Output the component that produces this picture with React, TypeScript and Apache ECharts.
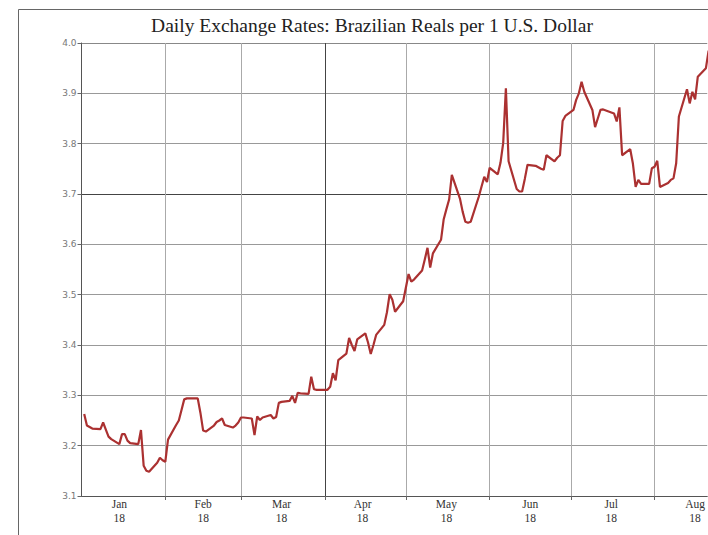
import React, { useEffect, useRef } from "react";
import * as echarts from "echarts";

const TITLE = "Daily Exchange Rates: Brazilian Reals per 1 U.S. Dollar";

const dates = [
  "2018-01-02","2018-01-03","2018-01-05","2018-01-08","2018-01-09","2018-01-10","2018-01-11","2018-01-12",
  "2018-01-15","2018-01-16","2018-01-17","2018-01-18","2018-01-19","2018-01-22","2018-01-23","2018-01-24",
  "2018-01-25","2018-01-26","2018-01-29","2018-01-30","2018-01-31","2018-02-01","2018-02-02","2018-02-05",
  "2018-02-06","2018-02-07","2018-02-08","2018-02-09","2018-02-12","2018-02-13","2018-02-14","2018-02-15",
  "2018-02-16","2018-02-19","2018-02-20","2018-02-21","2018-02-22","2018-02-23","2018-02-26","2018-02-27",
  "2018-02-28","2018-03-01","2018-03-02","2018-03-05","2018-03-06","2018-03-07","2018-03-08","2018-03-09",
  "2018-03-12","2018-03-13","2018-03-14","2018-03-15","2018-03-16","2018-03-19","2018-03-20","2018-03-21",
  "2018-03-22","2018-03-23","2018-03-26","2018-03-27","2018-03-28","2018-03-29","2018-04-02","2018-04-03",
  "2018-04-04","2018-04-05","2018-04-06","2018-04-09","2018-04-10","2018-04-11","2018-04-12","2018-04-13",
  "2018-04-16","2018-04-17","2018-04-18","2018-04-19","2018-04-20","2018-04-23","2018-04-24","2018-04-25",
  "2018-04-26","2018-04-27","2018-04-30","2018-05-02","2018-05-03","2018-05-04","2018-05-07","2018-05-08",
  "2018-05-09","2018-05-10","2018-05-11","2018-05-14","2018-05-15","2018-05-16","2018-05-17","2018-05-18",
  "2018-05-21","2018-05-22","2018-05-23","2018-05-24","2018-05-25","2018-05-28","2018-05-29","2018-05-30",
  "2018-05-31","2018-06-01","2018-06-04","2018-06-05","2018-06-06","2018-06-07","2018-06-08","2018-06-11",
  "2018-06-12","2018-06-13","2018-06-14","2018-06-15","2018-06-18","2018-06-19","2018-06-20","2018-06-21",
  "2018-06-22","2018-06-25","2018-06-26","2018-06-27","2018-06-28","2018-06-29","2018-07-02","2018-07-03",
  "2018-07-04","2018-07-05","2018-07-06","2018-07-09","2018-07-10","2018-07-11","2018-07-12","2018-07-13",
  "2018-07-16","2018-07-17","2018-07-18","2018-07-19","2018-07-20","2018-07-23","2018-07-24","2018-07-25",
  "2018-07-26","2018-07-27","2018-07-30","2018-07-31","2018-08-01","2018-08-02","2018-08-03","2018-08-06",
  "2018-08-07","2018-08-08","2018-08-09","2018-08-10","2018-08-13","2018-08-14","2018-08-15","2018-08-16",
  "2018-08-17","2018-08-20","2018-08-21"
];

const rates = [
  3.263,3.240,3.234,3.233,3.246,3.232,3.218,3.213,
  3.203,3.223,3.223,3.210,3.205,3.203,3.231,3.160,
  3.150,3.148,3.166,3.176,3.171,3.168,3.212,3.241,
  3.250,3.271,3.292,3.294,3.294,3.294,3.265,3.230,
  3.228,3.240,3.247,3.250,3.254,3.241,3.236,3.240,
  3.246,3.256,3.256,3.254,3.221,3.258,3.251,3.256,
  3.261,3.254,3.257,3.285,3.287,3.289,3.299,3.285,
  3.305,3.304,3.303,3.337,3.312,3.311,3.311,3.317,
  3.344,3.330,3.370,3.383,3.414,3.400,3.388,3.411,
  3.423,3.405,3.382,3.400,3.420,3.440,3.465,3.501,
  3.490,3.466,3.487,3.541,3.526,3.530,3.548,3.570,
  3.593,3.554,3.582,3.609,3.650,3.670,3.689,3.738,
  3.691,3.665,3.645,3.643,3.645,3.695,3.715,3.734,
  3.724,3.752,3.739,3.762,3.801,3.910,3.765,3.710,
  3.705,3.705,3.730,3.758,3.756,3.753,3.750,3.748,
  3.777,3.765,3.772,3.777,3.845,3.855,3.867,3.887,
  3.900,3.923,3.903,3.867,3.833,3.850,3.867,3.868,
  3.862,3.860,3.844,3.872,3.777,3.789,3.760,3.714,
  3.728,3.720,3.720,3.751,3.754,3.766,3.714,3.722,
  3.728,3.731,3.761,3.854,3.908,3.880,3.903,3.888,
  3.933,3.950,3.985
];

const monthStarts = ["2018-02-01","2018-03-01","2018-04-01","2018-05-01","2018-06-01","2018-07-01","2018-08-01"];
const labelDates = ["2018-01-15","2018-02-15","2018-03-16","2018-04-15","2018-05-16","2018-06-16","2018-07-16","2018-08-16"];
const monthNames = ["Jan","Feb","Mar","Apr","May","Jun","Jul","Aug"];
const yearLabels = ["18","18","18","18","18","18","18","18"];
const yTicks = ["3.1","3.2","3.3","3.4","3.5","3.6","3.7","3.8","3.9","4.0"];

const DAY = 86400000;
const ORIGIN = Date.UTC(2018, 0, 1);
const dayOf = (s: string) => {
  const [y, m, d] = s.split("-").map(Number);
  return (Date.UTC(y, m - 1, d) - ORIGIN) / DAY;
};

const X_MIN = 0;
const X_MAX = 231.5;
const SERIF = "Liberation Serif, Times New Roman, serif";

export default function App() {
  const ref = useRef<HTMLDivElement>(null);
  useEffect(() => {
    if (!ref.current) return;
    const chart = echarts.init(ref.current, null, { renderer: "svg" });
    const labelDays = labelDates.map(dayOf);
    const nearest = (v: number) => {
      let best = 0;
      let bd = Infinity;
      labelDays.forEach((t, i) => {
        const d = Math.abs(t - v);
        if (d < bd) { bd = d; best = i; }
      });
      return best;
    };
    chart.setOption({
      animation: false,
      backgroundColor: "#ffffff",
      grid: { left: 81.5, right: 0, top: 43, bottom: 39, containLabel: false },
      graphic: [
        {
          type: "rect",
          shape: { x: 18.5, y: 9.5, width: 900, height: 700 },
          style: { fill: "none", stroke: "#666", lineWidth: 1 },
          silent: true,
        },
        {
          type: "text",
          x: 372,
          y: 25,
          style: {
            text: TITLE,
            fontFamily: SERIF,
            fontSize: 19.5,
            fill: "#222",
            align: "center",
            verticalAlign: "middle",
          },
        },
      ],
      xAxis: [
        {
          type: "value",
          min: X_MIN,
          max: X_MAX,
          axisLine: { show: true, lineStyle: { color: "#555", width: 1 } },
          axisTick: {
            show: true,
            length: 4,
            lineStyle: { color: "#666" },
            customValues: monthStarts.map(dayOf),
          },
          axisLabel: {
            customValues: labelDays,
            formatter: (v: number) => monthNames[nearest(v)],
            fontFamily: SERIF,
            fontSize: 11.5,
            color: "#333",
            margin: 2,
            hideOverlap: false,
          },
          splitLine: {
            show: true,
            lineStyle: { color: ["#aaa", "#aaa", "#444", "#aaa", "#aaa", "#aaa", "#aaa"], width: 1 },
          },
        },
        {
          type: "value",
          position: "bottom",
          min: X_MIN,
          max: X_MAX,
          axisLine: { show: false },
          axisTick: { show: false },
          splitLine: { show: false },
          axisLabel: {
            customValues: labelDays,
            formatter: (v: number) => yearLabels[nearest(v)],
            fontFamily: SERIF,
            fontSize: 11.5,
            color: "#333",
            margin: 15.5,
            hideOverlap: false,
          },
        },
      ],
      yAxis: {
        type: "value",
        min: 3.1,
        max: 4.0,
        interval: 0.1,
        axisLine: { show: true, lineStyle: { color: "#555", width: 1 } },
        axisTick: { show: true, length: 4, lineStyle: { color: "#666" } },
        axisLabel: {
          formatter: (v: number) => yTicks[Math.round((v - 3.1) * 10)] ?? v.toFixed(1),
          fontFamily: "DejaVu Sans, sans-serif",
          fontSize: 9,
          color: "#777",
          margin: 5,
        },
        splitLine: {
          show: true,
          lineStyle: {
            color: ["#999", "#999", "#999", "#999", "#999", "#999", "#444", "#999", "#999", "#888"],
            width: 1,
          },
        },
      },
      series: [
        {
          type: "line",
          xAxisIndex: 0,
          data: dates.map((d, i) => [dayOf(d), rates[i]]),
          symbol: "none",
          showSymbol: false,
          clip: true,
          lineStyle: { color: "#ab3131", width: 2.2 },
        },
      ],
    });
    return () => chart.dispose();
  }, []);
  return (
    <div
      ref={ref}
      style={{ position: "absolute", left: 0, top: 0, width: 708, height: 535 }}
    />
  );
}
